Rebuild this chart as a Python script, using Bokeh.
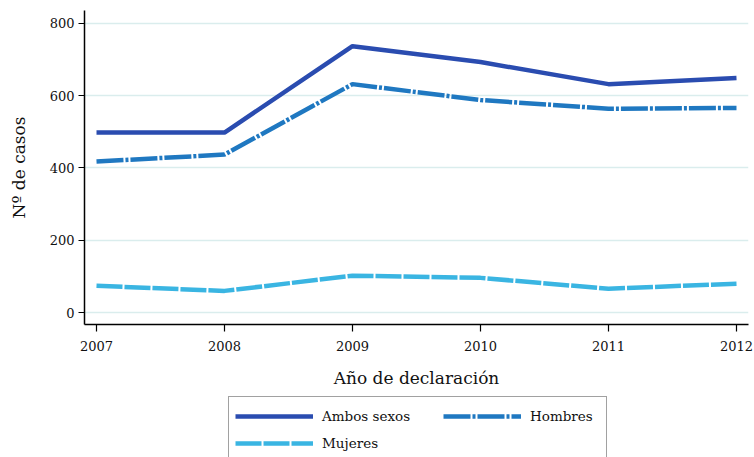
from bokeh.plotting import figure
from bokeh.layouts import column
from bokeh.models import Legend, LegendItem, FixedTicker, Range1d
from bokeh.embed import file_html
from bokeh.resources import INLINE

years = [2007, 2008, 2009, 2010, 2011, 2012]
ambos = [498, 498, 737, 693, 632, 649]
hombres = [418, 437, 632, 588, 564, 566]
mujeres = [74, 60, 102, 96, 66, 80]
y_ticks = [0, 200, 400, 600, 800]
series_names = ["Ambos sexos", "Hombres", "Mujeres"]

FONT = "DejaVu Serif"
TXT = "#111111"
C_AMBOS, C_HOMB, C_MUJ = "#2a4cb0", "#1f78c1", "#3ab5e2"
D_HOMB, D_MUJ = "27 2 3 2", "26 2"
LW = 4.5

fig = figure(width=754, height=390, output_backend="svg", toolbar_location=None,
             x_range=Range1d(2006.90625, 2012.09375), y_range=Range1d(-33.0, 835.7),
             min_border_left=84, min_border_right=6, min_border_top=10, min_border_bottom=64)
fig.outline_line_color = None
fig.background_fill_color = "white"

fig.line(years, ambos, line_color=C_AMBOS, line_width=LW)
fig.line(years, hombres, line_color=C_HOMB, line_width=LW, line_dash=D_HOMB)
fig.line(years, mujeres, line_color=C_MUJ, line_width=LW, line_dash=D_MUJ)

fig.xgrid.grid_line_color = None
fig.ygrid.grid_line_color = "#daeded"
fig.ygrid.grid_line_width = 1.5
fig.ygrid.ticker = FixedTicker(ticks=y_ticks)

fig.xaxis.ticker = FixedTicker(ticks=years)
fig.yaxis.ticker = FixedTicker(ticks=y_ticks)
for ax in (fig.xaxis[0], fig.yaxis[0]):
    ax.axis_line_color = "black"
    ax.axis_line_width = 1.5
    ax.major_tick_line_color = "black"
    ax.major_tick_line_width = 1.2
    ax.minor_tick_line_color = None
    ax.major_tick_in = 0
    ax.major_label_text_font = FONT
    ax.major_label_text_font_size = "13px"
    ax.major_label_text_color = TXT
    ax.axis_label_text_font = FONT
    ax.axis_label_text_font_size = "17px"
    ax.axis_label_text_font_style = "normal"
    ax.axis_label_text_color = TXT

fig.xaxis.major_tick_out = 7
fig.xaxis.major_label_standoff = 9
fig.xaxis.axis_label = "Año de declaración"
fig.xaxis.axis_label_standoff = 14
fig.yaxis.major_tick_out = 6
fig.yaxis.major_label_standoff = 4
fig.yaxis.axis_label = "Nº de casos"
fig.yaxis.axis_label_standoff = 18

# legend strip below the chart (series drawn outside its ranges, only their legend glyphs show)
lf = figure(width=754, height=67, output_backend="svg", toolbar_location=None,
            x_range=Range1d(0, 1), y_range=Range1d(0, 1),
            x_axis_location=None, y_axis_location=None,
            min_border_left=0, min_border_right=0, min_border_top=0, min_border_bottom=0)
lf.outline_line_color = None
lf.xgrid.grid_line_color = None
lf.ygrid.grid_line_color = None
la = lf.line(years, ambos, line_color=C_AMBOS, line_width=LW)
lh = lf.line(years, hombres, line_color=C_HOMB, line_width=LW, line_dash=D_HOMB)
lm = lf.line(years, mujeres, line_color=C_MUJ, line_width=LW, line_dash=D_MUJ)


def style(lg):
    lg.label_text_font = FONT
    lg.label_text_font_size = "13.5px"
    lg.label_text_color = TXT
    lg.glyph_width = 78
    lg.glyph_height = 26
    lg.label_height = 26
    lg.label_standoff = 9
    lg.padding = 6
    lg.spacing = 1
    lg.margin = 0


leg_a = Legend(items=[LegendItem(label=series_names[0], renderers=[la]),
                      LegendItem(label=series_names[2], renderers=[lm])],
               location=(144, -6), orientation="vertical")
style(leg_a)
leg_a.label_width = 278
leg_a.border_line_color = "#444444"
leg_a.border_line_width = 1.5
leg_a.background_fill_color = "white"

leg_b = Legend(items=[LegendItem(label=series_names[1], renderers=[lh])],
               location=(359, 28), orientation="vertical")
style(leg_b)
leg_b.border_line_color = None
leg_b.background_fill_alpha = 0

lf.add_layout(leg_a, "center")
lf.add_layout(leg_b, "center")

p = column(fig, lf, spacing=0)
open("out.html", "w").write(file_html(p, INLINE))
